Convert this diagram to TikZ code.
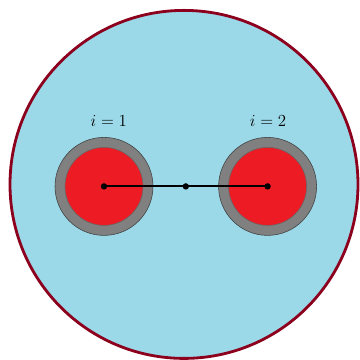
\documentclass[tikz,border=0pt]{standalone}
\usepackage{amsmath,amssymb}
\usepackage{xcolor}
\usepackage{tikz}
\usetikzlibrary{calc}

\definecolor{skyfill}{RGB}{155,217,233}
\definecolor{wallred}{RGB}{140,0,30}
\definecolor{corered}{RGB}{237,28,36}

\begin{document}
\begin{tikzpicture}[
  dom/.style={draw=wallred, fill=skyfill, circle, line width=2pt, minimum size=87mm, inner sep=0pt},
  ring/.style={draw=black!75, fill=gray, circle, minimum size=24.5mm, inner sep=0pt},
  core/.style={draw=black!60, fill=corered, circle, minimum size=19.5mm, inner sep=0pt},
  pt/.style={fill=black, circle, minimum size=1.6mm, inner sep=0pt},
  rod/.style={line width=1.5pt}]
\useasboundingbox (0,0) rectangle (9,9);
\node[dom] (box) at (4.6,4.39) {};
\node[ring] (r1) at (2.6,4.34) {};
\node[ring] (r2) at (6.69,4.34) {};
\node[core] (c1) at (2.6,4.34) {};
\node[core] (c2) at (6.69,4.34) {};
\draw[rod] (c1.center) -- (c2.center);
\node[pt] (p1) at (c1.center) {};
\node[pt] (p2) at (c2.center) {};
\node[pt] (pm) at ($(c1.center)!0.5!(c2.center)$) {};
\node[font=\large] (l1) at (2.72,5.97) {$i = 1$};
\node[font=\large] (l2) at (6.7,5.97) {$i = 2$};
\end{tikzpicture}
\end{document}
